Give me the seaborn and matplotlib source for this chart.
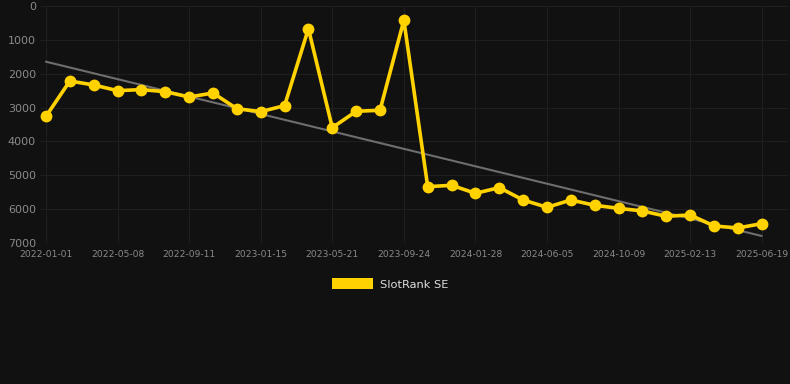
import numpy as np
import pandas as pd
import matplotlib
matplotlib.use("Agg")
import matplotlib.pyplot as plt
from matplotlib.patches import Patch
import seaborn as sns

dates = ["2022-01-01", "2022-02-12", "2022-03-26", "2022-05-08", "2022-06-19",
         "2022-07-31", "2022-09-11", "2022-10-23", "2022-12-04", "2023-01-15",
         "2023-02-26", "2023-04-09", "2023-05-21", "2023-07-02", "2023-08-13",
         "2023-09-24", "2023-11-05", "2023-12-17", "2024-01-28", "2024-03-10",
         "2024-04-23", "2024-06-05", "2024-07-17", "2024-08-28", "2024-10-09",
         "2024-11-20", "2025-01-01", "2025-02-13", "2025-03-27", "2025-05-08",
         "2025-06-19"]
rank = [3260, 2215, 2333, 2500, 2470, 2530, 2688, 2570, 3033, 3120,
        2944, 670, 3594, 3110, 3080, 423, 5336, 5296, 5532, 5365,
        5730, 5946, 5730, 5887, 5976, 6054, 6212, 6172, 6497, 6556, 6428]
trend_ends = [1645, 6793]
tick_labels = ["2022-01-01", "2022-05-08", "2022-09-11", "2023-01-15", "2023-05-21",
               "2023-09-24", "2024-01-28", "2024-06-05", "2024-10-09", "2025-02-13",
               "2025-06-19"]
series_name = "SlotRank SE"

bg = "#111111"
gold = "#FFD200"

sns.set_theme(style="dark")
plt.rcParams['font.family'] = ['DejaVu Sans']

fig = plt.figure(figsize=(7.9, 3.84), dpi=100, facecolor=bg)
W, H = 790, 384
ax = fig.add_axes([40 / W, 1 - 243 / H, (788 - 40) / W, (243 - 6) / H])
ax.set_facecolor(bg)

df = pd.DataFrame({"idx": np.arange(len(dates)), "date": dates, "rank": rank})
trend_df = pd.DataFrame({"idx": [0, len(dates) - 1], "rank": trend_ends})

sns.lineplot(data=trend_df, x="idx", y="rank", ax=ax, color="#6e6e6e", lw=1.5, zorder=2)
sns.lineplot(data=df, x="idx", y="rank", ax=ax, color=gold, lw=2.6, marker="o",
             markersize=8.5, markeredgewidth=0, zorder=3)

ax.set_ylim(7000, 0)
ax.set_xlim(-0.25, 31.1)
ax.set_yticks(np.arange(0, 7001, 1000))
ax.set_yticklabels([str(v) for v in range(0, 7001, 1000)])
tick_pos = [dates.index(d) for d in tick_labels]
ax.set_xticks(tick_pos)
ax.set_xticklabels(tick_labels)
ax.tick_params(axis="y", colors="#8a8a8a", labelsize=8, length=0, pad=3)
ax.tick_params(axis="x", colors="#8a8a8a", labelsize=6.6, length=0, pad=5)
ax.grid(True, color="#1f1f1f", lw=0.8)
ax.set_axisbelow(True)
for s in ax.spines.values():
    s.set_visible(False)
ax.set_xlabel("")
ax.set_ylabel("")

handle = Patch(facecolor=gold, edgecolor="none", label=series_name)
fig.legend(handles=[handle], loc="center", bbox_to_anchor=(390 / W, 1 - 284 / H),
           frameon=False, fontsize=8.2, labelcolor="#dddddd",
           handlelength=3.6, handleheight=1.1, handletextpad=0.6)

fig.savefig("out.png", dpi=100, facecolor=bg)
